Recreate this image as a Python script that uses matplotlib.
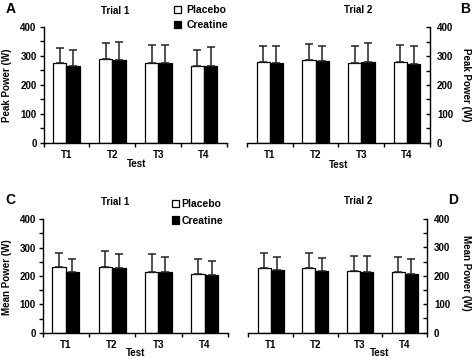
import numpy as np
import matplotlib
matplotlib.use('Agg')
import matplotlib.pyplot as plt
from matplotlib.patches import Patch

plt.rcParams['font.family'] = 'Liberation Sans'
plt.rcParams['font.weight'] = 'bold'

tests = ['T1', 'T2', 'T3', 'T4']

# Peak power, trial 1 (A) and trial 2 (B)
peak1_plac = [277, 290, 274, 264]
peak1_plac_sd = [49, 55, 64, 57]
peak1_crea = [266, 286, 276, 266]
peak1_crea_sd = [54, 61, 62, 64]
peak2_plac = [278, 286, 276, 278]
peak2_plac_sd = [58, 56, 60, 61]
peak2_crea = [277, 282, 278, 273]
peak2_crea_sd = [57, 54, 68, 63]

# Mean power, trial 1 (C) and trial 2 (D)
mean1_plac = [230, 232, 215, 206]
mean1_plac_sd = [50, 55, 61, 54]
mean1_crea = [215, 227, 215, 204]
mean1_crea_sd = [45, 51, 52, 49]
mean2_plac = [229, 226, 216, 214]
mean2_plac_sd = [53, 54, 53, 52]
mean2_crea = [221, 218, 213, 206]
mean2_crea_sd = [47, 44, 56, 53]

fig = plt.figure(figsize=(4.73, 3.58), dpi=100)

axA = fig.add_axes([0.092, 0.601, 0.388, 0.324])
axB = fig.add_axes([0.522, 0.601, 0.387, 0.323])
axC = fig.add_axes([0.090, 0.070, 0.392, 0.318])
axD = fig.add_axes([0.525, 0.071, 0.378, 0.317])

w = 0.29
x = np.arange(len(tests))


def draw(ax, plac, plac_sd, crea, crea_sd, right=False):
    ax.bar(x - w/2, plac, w, color='white', edgecolor='black', linewidth=0.9)
    ax.bar(x + w/2, crea, w, color='black', edgecolor='black', linewidth=0.9)
    ax.errorbar(x - w/2, plac, yerr=[np.zeros(4), plac_sd], fmt='none',
                ecolor='#222222', elinewidth=1.1, capsize=2.6, capthick=1.1)
    ax.errorbar(x + w/2, crea, yerr=[np.zeros(4), crea_sd], fmt='none',
                ecolor='#222222', elinewidth=1.1, capsize=2.6, capthick=1.1)
    ax.set_ylim(0, 400)
    ax.set_xlim(-0.5, 3.5)
    ax.set_yticks([0, 100, 200, 300, 400])
    ax.set_yticks([50, 150, 250, 350], minor=True)
    ax.set_xticks(np.arange(-0.5, 4, 1))
    ax.set_xticklabels([])
    ax.set_xticks(x, minor=True)
    ax.set_xticklabels(tests, minor=True)
    ax.tick_params(axis='x', which='major', direction='out', length=3, width=1)
    ax.tick_params(axis='x', which='minor', length=0, labelsize=7, pad=5)
    ax.spines['top'].set_visible(False)
    for s in ['bottom', 'left', 'right']:
        ax.spines[s].set_linewidth(1)
    if right:
        ax.spines['left'].set_visible(False)
        ax.yaxis.tick_right()
        ax.tick_params(axis='y', which='both', direction='in', length=3,
                       width=1, labelsize=7, pad=5)
    else:
        ax.spines['right'].set_visible(False)
        ax.tick_params(axis='y', which='both', direction='out', length=3,
                       width=1, labelsize=7, pad=2)


draw(axA, peak1_plac, peak1_plac_sd, peak1_crea, peak1_crea_sd)
draw(axB, peak2_plac, peak2_plac_sd, peak2_crea, peak2_crea_sd, right=True)
draw(axC, mean1_plac, mean1_plac_sd, mean1_crea, mean1_crea_sd)
draw(axD, mean2_plac, mean2_plac_sd, mean2_crea, mean2_crea_sd, right=True)

# titles, panel letters, axis labels
fs = 7
fig.text(115/473, 1 - 11/358, 'Trial 1', ha='center', va='center', fontsize=fs)
fig.text(358/473, 1 - 10/358, 'Trial 2', ha='center', va='center', fontsize=fs)
fig.text(115/473, 1 - 202/358, 'Trial 1', ha='center', va='center', fontsize=fs)
fig.text(358/473, 1 - 201/358, 'Trial 2', ha='center', va='center', fontsize=fs)

fig.text(11/473, 1 - 9/358, 'A', ha='center', va='center', fontsize=10)
fig.text(465/473, 1 - 9/358, 'B', ha='center', va='center', fontsize=10)
fig.text(10/473, 1 - 200/358, 'C', ha='center', va='center', fontsize=10)
fig.text(453/473, 1 - 200/358, 'D', ha='center', va='center', fontsize=10)

fig.text(7/473, 1 - 85/358, 'Peak Power (W)', rotation=90, ha='center', va='center', fontsize=fs)
fig.text(466/473, 1 - 85/358, 'Peak Power (W)', rotation=-90, ha='center', va='center', fontsize=fs)
fig.text(7/473, 1 - 277/358, 'Mean Power (W)', rotation=90, ha='center', va='center', fontsize=fs)
fig.text(466/473, 1 - 273/358, 'Mean Power (W)', rotation=-90, ha='center', va='center', fontsize=fs)

fig.text(137/473, 1 - 164/358, 'Test', ha='center', va='center', fontsize=fs)
fig.text(339/473, 1 - 165/358, 'Test', ha='center', va='center', fontsize=fs)
fig.text(136/473, 1 - 353/358, 'Test', ha='center', va='center', fontsize=fs)
fig.text(380/473, 1 - 353/358, 'Test', ha='center', va='center', fontsize=fs)

handles = [Patch(facecolor='white', edgecolor='black', linewidth=0.9, label='Placebo'),
           Patch(facecolor='black', edgecolor='black', linewidth=0.9, label='Creatine')]
fig.legend(handles=handles, loc='upper left', bbox_to_anchor=(0.368, 0.985),
           frameon=False, fontsize=7.5, handlelength=0.7, handleheight=0.7,
           handletextpad=0.5, labelspacing=0.45, borderpad=0, borderaxespad=0)
fig.legend(handles=handles, loc='upper left', bbox_to_anchor=(0.364, 0.443),
           frameon=False, fontsize=7.5, handlelength=0.7, handleheight=0.7,
           handletextpad=0.2, labelspacing=0.6, borderpad=0, borderaxespad=0)

fig.savefig('out.png', dpi=100)
